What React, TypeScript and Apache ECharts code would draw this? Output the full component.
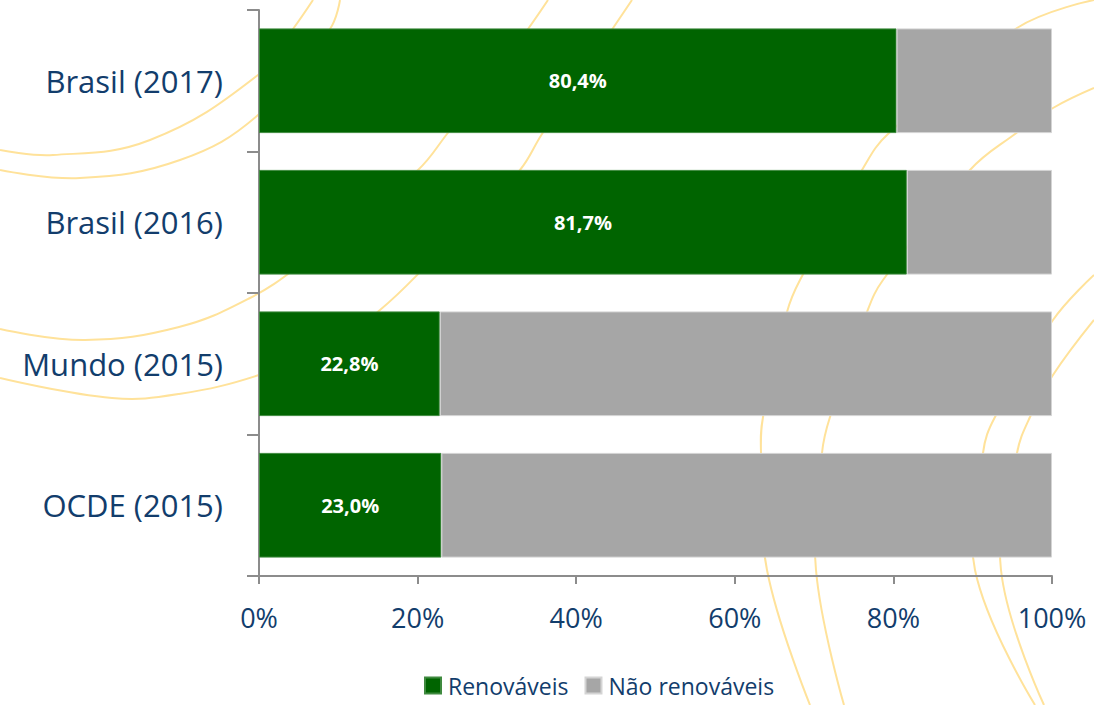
import React, { useEffect, useRef } from "react";
import * as echarts from "echarts";

const categories = ["Brasil (2017)", "Brasil (2016)", "Mundo (2015)", "OCDE (2015)"];
const renovaveis = [80.4, 81.7, 22.8, 23.0];
const naoRenovaveis = [19.6, 18.3, 77.2, 77.0];
const seriesNames = ["Renováveis", "Não renováveis"];

const TEXT = "#123d6c";
const FONT = "'Open Sans', sans-serif";

// decorative background curves
const curves: number[][][] = [
  [[0, 150], [53, 155], [150, 140], [258, 75], [293, 29], [313, 0]],
  [[0, 170], [80, 178], [180, 160], [258, 115], [330, 29], [340, 0]],
  [[0, 329], [85, 340], [179, 327], [250, 298], [300, 265], [360, 215], [418, 170], [447, 134], [520, 40], [548, 0]],
  [[0, 378], [112, 398], [179, 394], [259, 375], [330, 345], [380, 310], [430, 262], [480, 210], [520, 170], [542, 134], [605, 40], [632, 0]],
  [[1094, 0], [1017, 28], [888, 134], [862, 170], [800, 280], [787, 312], [763, 417], [761, 453], [767, 570], [810, 705]],
  [[1094, 88], [1053, 108], [1015, 134], [970, 170], [883, 280], [867, 312], [830, 417], [822, 453], [816, 570], [844, 705]],
  [[1094, 275], [1053, 320], [995, 417], [983, 453], [975, 570], [1035, 705]],
  [[1094, 320], [1053, 375], [1030, 417], [1017, 453], [1001, 570], [1044, 705]],
];

export default function App() {
  const ref = useRef<HTMLDivElement>(null);
  useEffect(() => {
    document.body.style.margin = "0";
    const chart = echarts.init(ref.current!, null, { renderer: "svg" });
    chart.setOption({
      animation: false,
      backgroundColor: "#ffffff",
      graphic: curves.map((pts) => ({
        type: "polyline",
        z: -10,
        silent: true,
        shape: { points: pts, smooth: 0.4 },
        style: { stroke: "#ffe29a", lineWidth: 2, fill: null },
      })),
      grid: { left: 259, right: 42, top: 10, bottom: 129, containLabel: false },
      legend: {
        data: seriesNames,
        left: 424,
        top: 674,
        itemWidth: 16,
        itemHeight: 16,
        itemGap: 16,
        icon: "rect",
        padding: 0,
        textStyle: { color: TEXT, fontSize: 23, lineHeight: 23, fontFamily: FONT, padding: [0, 0, 0, 2] },
      },
      xAxis: {
        type: "value",
        min: 0,
        max: 100,
        interval: 20,
        splitLine: { show: false },
        axisLine: { show: true, lineStyle: { color: "#8c8c8c", width: 2 } },
        axisTick: { show: true, length: 8, lineStyle: { color: "#8c8c8c", width: 2 } },
        axisLabel: {
          formatter: "{value}%",
          color: TEXT,
          fontSize: 27,
          fontFamily: FONT,
          margin: 28,
        },
      },
      yAxis: {
        type: "category",
        inverse: true,
        data: categories,
        axisLine: { show: true, lineStyle: { color: "#8c8c8c", width: 2 } },
        axisTick: { show: true, length: 12, lineStyle: { color: "#8c8c8c", width: 2 } },
        axisLabel: { color: TEXT, fontSize: 31, fontFamily: FONT, margin: 36 },
      },
      series: [
        {
          name: seriesNames[0],
          type: "bar",
          stack: "total",
          barCategoryGap: "26%",
          data: renovaveis,
          itemStyle: { color: "#006400", borderColor: "#3f8a3f", borderWidth: 1 },
          label: {
            show: true,
            position: "inside",
            color: "#ffffff",
            fontWeight: "bold",
            fontSize: 20,
            fontFamily: FONT,
            formatter: (p: any) => p.value.toFixed(1).replace(".", ",") + "%",
          },
        },
        {
          name: seriesNames[1],
          type: "bar",
          stack: "total",
          data: naoRenovaveis,
          itemStyle: { color: "#a6a6a6", borderColor: "#d4d4d4", borderWidth: 1 },
          label: { show: false },
        },
      ],
    });
    return () => chart.dispose();
  }, []);
  return <div ref={ref} style={{ width: 1094, height: 705 }} />;
}
